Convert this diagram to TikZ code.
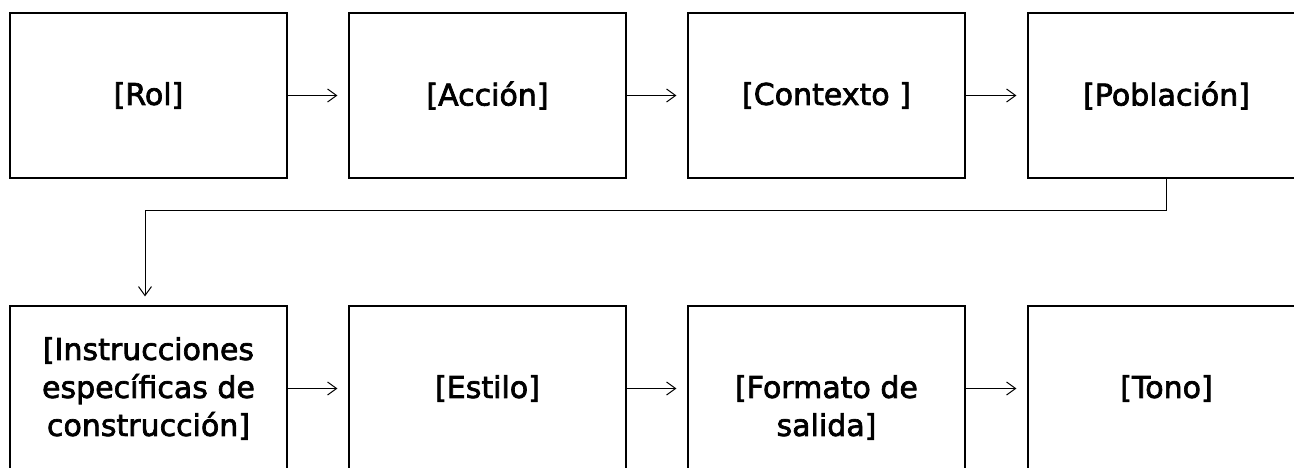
\documentclass[tikz,border=0pt]{standalone}
\usepackage{fontspec}
\setmainfont{DejaVu Sans}
\usetikzlibrary{arrows.meta}
\newcommand\gruesa{\special{pdf:literal 2 Tr 0.7 w}}
\tikzset{
  >={Straight Barb[length=9pt,width=13pt]},
  paso/.style={draw, line width=1.2pt, minimum width=277pt, minimum height=165pt,
    align=center, inner sep=0pt, font=\fontsize{30}{38}\selectfont\gruesa},
  flecha/.style={->, line width=1pt, shorten >=11pt}
}
\begin{document}
\begin{tikzpicture}[x=1pt,y=-1pt]
              \useasboundingbox (0,0) rectangle (1294,468);
              % fila de arriba
              \node[paso] (rol) at (148.5,95.5) {[Rol]};
              \node[paso] (accion) at (487.5,95.5) {[Acción]};
              \node[paso] (contexto) at (826.5,95.5) {[Contexto ]};
              \node[paso] (poblacion) at (1166.5,95.5) {[Población]};
              % fila de abajo
              \node[paso] (instrucciones) at (148.5,388.5) {[Instrucciones\\específicas de\\construcción]};
              \node[paso] (estilo) at (487.5,388.5) {[Estilo]};
              \node[paso] (formato) at (826.5,388.5) {\phantom{[}\\\relax[Formato de\\salida]};
              \node[paso] (tono) at (1166.5,388.5) {[Tono]};
              \draw[flecha] (rol) -- (accion);
              \draw[flecha] (accion) -- (contexto);
              \draw[flecha] (contexto) -- (poblacion);
              \draw[->, line width=1pt] (poblacion.south) -- ++(0,32) -| ([xshift=-3.5pt,yshift=9pt]instrucciones.north);
              \draw[flecha] (instrucciones) -- (estilo);
              \draw[flecha] (estilo) -- (formato);
              \draw[flecha] (formato) -- (tono);
          \end{tikzpicture}
\end{document}
